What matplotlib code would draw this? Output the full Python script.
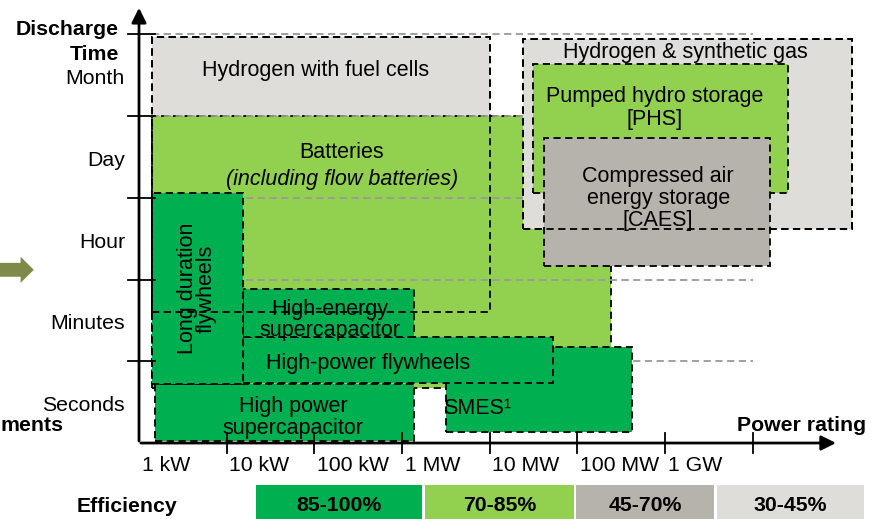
import matplotlib
matplotlib.use('Agg')
import matplotlib.pyplot as plt
from matplotlib.patches import Rectangle, FancyArrow

plt.rcParams['font.family'] = ['Liberation Sans', 'DejaVu Sans']

# x in decades of power (0 = 1 kW), y in discharge-time levels (1 = seconds/minutes boundary ...)
DARK = '#00B050'
LIGHT = '#92D050'
MIDGRAY = '#B6B3AD'
LIGHTGRAY = '#DEDDDA'

power_labels = ['1 kW', '10 kW', '100 kW', '1 MW', '10 MW', '100 MW', '1 GW']
time_labels = ['Seconds', 'Minutes', 'Hour', 'Day', 'Month']

# technologies: (x0, x1, y0, y1) in decade/level units
tech_names = ['Hydrogen with fuel cells', 'Batteries', 'Hydrogen & synthetic gas',
              'Pumped hydro storage', 'Compressed air energy storage',
              'High power supercapacitor', 'SMES', 'High-power flywheels',
              'High-energy supercapacitor', 'Long duration flywheels']
tech_x0 = [0.15, 0.15, 4.38, 4.49, 4.62, 0.18, 3.50, 1.19, 1.19, 0.15]
tech_x1 = [4.00, 5.38, 8.13, 7.40, 7.20, 3.14, 5.62, 4.72, 3.14, 1.19]
tech_y0 = [1.60, 0.67, 2.62, 3.06, 2.17, 0.02, 0.13, 0.73, 1.30, 0.72]
tech_y1 = [4.97, 4.00, 4.94, 4.64, 3.73, 0.72, 1.18, 1.30, 1.88, 3.06]
tech_colors = [LIGHTGRAY, LIGHT, LIGHTGRAY, LIGHT, MIDGRAY, DARK, DARK, DARK, DARK, DARK]

eff_labels = ['85-100%', '70-85%', '45-70%', '30-45%']
eff_colors = [DARK, LIGHT, MIDGRAY, LIGHTGRAY]
eff_x0 = [1.33, 3.26, 4.98, 6.59]
eff_x1 = [3.23, 4.96, 6.56, 8.27]

fig = plt.figure(figsize=(8.83, 5.19), dpi=100)
ax = fig.add_axes([0, 0, 1, 1])
ax.set_xlim(-1.585, 8.484)
ax.set_ylim(-0.930, 5.422)
ax.axis('off')

dash = (0, (4, 2.5))
for i in range(len(tech_names)):
    z = 2 + i
    if i == 1:
        z = 2.5
    ax.add_patch(Rectangle((tech_x0[i], tech_y0[i]), tech_x1[i] - tech_x0[i],
                           tech_y1[i] - tech_y0[i], facecolor=tech_colors[i],
                           edgecolor='black', lw=1.3, ls=dash, zorder=z))
    if i in (0, 2):
        ax.add_patch(Rectangle((tech_x0[i], tech_y0[i]), tech_x1[i] - tech_x0[i],
                               tech_y1[i] - tech_y0[i], facecolor='none',
                               edgecolor='black', lw=1.3, ls=dash, zorder=20))

# gray level lines
for lv in range(1, 6):
    ax.plot([0.15, 7.0], [lv, lv], color='#999999', lw=1.3, ls=(0, (4, 2.5)), zorder=2.7)

# axes with arrows
ax.annotate('', xy=(0, 5.36), xytext=(0, -0.01),
            arrowprops=dict(arrowstyle='-|>', lw=2, color='black', mutation_scale=22), zorder=30)
ax.annotate('', xy=(7.98, 0), xytext=(-0.01, 0),
            arrowprops=dict(arrowstyle='-|>', lw=2, color='black', mutation_scale=22), zorder=30)
for k in range(1, 8):
    ax.plot([k, k], [0.12, -0.12], color='black', lw=1.3, zorder=30)
for k, lab in enumerate(power_labels):
    ax.text(k + 0.03, -0.28, lab, ha='left', va='center', fontsize=15.3)
for lv in range(1, 6):
    ax.plot([-0.125, 0.18], [lv, lv], color='black', lw=1.3, zorder=30)
for k, lab in enumerate(time_labels):
    ax.text(-0.16, k + 0.46, lab, ha='right', va='center', fontsize=15.3)

bfs = 15.3
ax.text(-0.23, 5.06, 'Discharge', ha='right', va='center', fontsize=bfs, fontweight='bold')
ax.text(-0.23, 4.75, 'Time', ha='right', va='center', fontsize=bfs, fontweight='bold')
ax.text(8.29, 0.21, 'Power rating', ha='right', va='center', fontsize=bfs, fontweight='bold')
ax.text(-1.585, 0.21, 'ments', ha='left', va='center', fontsize=bfs, fontweight='bold')
ax.add_patch(FancyArrow(-1.62, 2.12, 0.27, 0, width=0.17, head_width=0.32,
                        head_length=0.15, length_includes_head=False,
                        color='#7E8A4A', lw=0))

# technology labels
fs = 15.5
ax.text(2.01, 4.56, 'Hydrogen with fuel cells', ha='center', va='center', fontsize=fs, zorder=40)
ax.text(6.23, 4.78, 'Hydrogen & synthetic gas', ha='center', va='center', fontsize=fs, zorder=40)
ax.text(2.31, 3.55, 'Batteries', ha='center', va='center', fontsize=fs, zorder=40)
ax.text(2.31, 3.22, '(including flow batteries)', ha='center', va='center', fontsize=fs,
        style='italic', zorder=40)
ax.text(5.88, 4.10, 'Pumped hydro storage\n[PHS]', ha='center', va='center', fontsize=fs,
        linespacing=1.1, zorder=40)
ax.text(5.92, 2.99, 'Compressed air\nenergy storage\n[CAES]', ha='center', va='center',
        fontsize=fs, linespacing=1.05, zorder=40)
ax.text(0.66, 1.89, 'Long duration\nflywheels', ha='center', va='center', fontsize=fs,
        rotation=90, linespacing=0.85, zorder=40)
ax.text(2.18, 1.51, 'High-energy\nsupercapacitor', ha='center', va='center', fontsize=fs,
        linespacing=1.0, zorder=40)
ax.text(2.61, 0.97, 'High-power flywheels', ha='center', va='center', fontsize=fs, zorder=40)
ax.text(1.76, 0.31, 'High power\nsupercapacitor', ha='center', va='center', fontsize=fs,
        linespacing=1.05, zorder=40)
ax.text(3.47, 0.42, 'SMES\u00b9', ha='left', va='center', fontsize=fs, zorder=40)

# efficiency legend
ax.text(-0.137, -0.78, 'Efficiency', ha='center', va='center', fontsize=bfs, fontweight='bold')
for i, lab in enumerate(eff_labels):
    ax.add_patch(Rectangle((eff_x0[i], -0.93), eff_x1[i] - eff_x0[i], 0.416,
                           facecolor=eff_colors[i], edgecolor='none'))
    ax.text((eff_x0[i] + eff_x1[i]) / 2, -0.77, lab, ha='center', va='center',
            fontsize=bfs, fontweight='bold')

fig.savefig('out.png', dpi=100)
